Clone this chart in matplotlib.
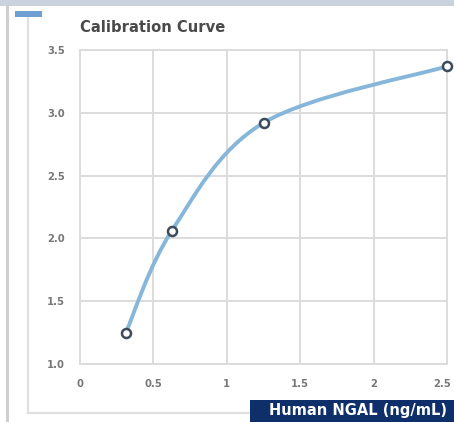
import matplotlib
matplotlib.use("Agg")
import matplotlib.pyplot as plt
from matplotlib.path import Path
from matplotlib.patches import PathPatch, Rectangle
from matplotlib.lines import Line2D
from matplotlib.transforms import ScaledTranslation
import numpy as np

# Data
concentration = [0.3125, 0.625, 1.25, 2.5]
od_values = [1.25, 2.06, 2.92, 3.37]
x_ticks = [0, 0.5, 1, 1.5, 2, 2.5]
x_tick_labels = ["0", "0.5", "1", "1.5", "2", "2.5"]
y_ticks = [1.0, 1.5, 2.0, 2.5, 3.0, 3.5]
y_tick_labels = ["1.0", "1.5", "2.0", "2.5", "3.0", "3.5"]
title = "Calibration Curve"
x_label = "Human NGAL (ng/mL)"

W, H = 454, 422
fig = plt.figure(figsize=(W / 100, H / 100), dpi=100)
fig.patch.set_facecolor("white")

# decorative frame
fig.add_artist(Rectangle((0, 1 - 6 / H), 1, 6 / H, transform=fig.transFigure,
                         facecolor="#cad2de", edgecolor="none"))
fig.add_artist(Line2D([7 / W, 7 / W], [0, 1 - 6 / H], transform=fig.transFigure,
                      color="#cfcfcf", lw=2.2))
fig.add_artist(Line2D([28 / W, 28 / W], [1 - 413 / H, 1 - 16 / H], transform=fig.transFigure,
                      color="#e0e0e0", lw=1.6))
fig.add_artist(Line2D([28 / W, 1], [1 - 413 / H, 1 - 413 / H], transform=fig.transFigure,
                      color="#e0e0e0", lw=1.6))
fig.add_artist(Rectangle((15 / W, 1 - 17 / H), 27 / W, 6 / H, transform=fig.transFigure,
                         facecolor="#6d9fd3", edgecolor="none", zorder=5))

ax = fig.add_axes([80 / W, 1 - 364 / H, (447 - 80) / W, (364 - 50) / H])
ax.set_xlim(0, 2.5)
ax.set_ylim(1.0, 3.5)
ax.set_xticks(x_ticks)
ax.set_xticklabels(x_tick_labels)
ax.set_yticks(y_ticks)
ax.set_yticklabels(y_tick_labels)
ax.grid(True, color="#dcdcdc", lw=1.4)
ax.set_axisbelow(True)
for s in ax.spines.values():
    s.set_color("#dcdcdc")
    s.set_linewidth(1.4)
ax.tick_params(length=0, labelsize=7.2, labelcolor="#777777", pad=11)
ax.tick_params(axis="x", pad=11)
for lab in ax.get_xticklabels() + ax.get_yticklabels():
    lab.set_fontweight("bold")
    lab.set_family("DejaVu Sans")
# keep the last x tick label inside the figure edge
last = ax.xaxis.get_major_ticks()[-1].label1
last.set_transform(last.get_transform() + ScaledTranslation(-5 / 100, 0, fig.dpi_scale_trans))

# smoothed line (Excel-like Bezier through the points, in normalized space)
sx, sy = 1 / 2.5, (314 / 367) / 2.5
pts = np.column_stack([np.array(concentration) * sx, (np.array(od_values) - 1.0) * sy])
n = len(pts)
verts = [pts[0]]
codes = [Path.MOVETO]
for i in range(n - 1):
    p0 = pts[i - 1] if i > 0 else pts[i]
    p1 = pts[i]
    p2 = pts[i + 1]
    p3 = pts[i + 2] if i + 2 < n else pts[i + 1]
    c1 = p1 + (p2 - p0) / 6
    c2 = p2 - (p3 - p1) / 6
    verts += [c1, c2, p2]
    codes += [Path.CURVE4] * 3
verts = np.array(verts)
verts[:, 0] = verts[:, 0] / sx
verts[:, 1] = verts[:, 1] / sy + 1.0
path = Path(verts, codes)
ax.add_patch(PathPatch(path, facecolor="none", edgecolor="#86b6da", lw=2.8,
                       capstyle="round", clip_on=False, zorder=3))
ax.plot(concentration, od_values, linestyle="none", marker="o", ms=6.5,
        mfc="white", mec="#3d4b5c", mew=1.8, clip_on=False, zorder=4)

fig.text(80 / W, 1 - 27 / H, title, fontsize=10.6, fontweight="bold",
         color="#4a4a4a", family="DejaVu Sans", va="center", ha="left")

# x label box
fig.add_artist(Rectangle((250 / W, 0), (W - 250) / W, 22 / H, transform=fig.transFigure,
                         facecolor="#0e2f6a", edgecolor="none", zorder=5))
fig.text(358 / W, 11 / H, x_label, fontsize=10.5, fontweight="bold", color="white",
         family="DejaVu Sans", ha="center", va="center", zorder=6)

fig.savefig("out.png", dpi=100)
